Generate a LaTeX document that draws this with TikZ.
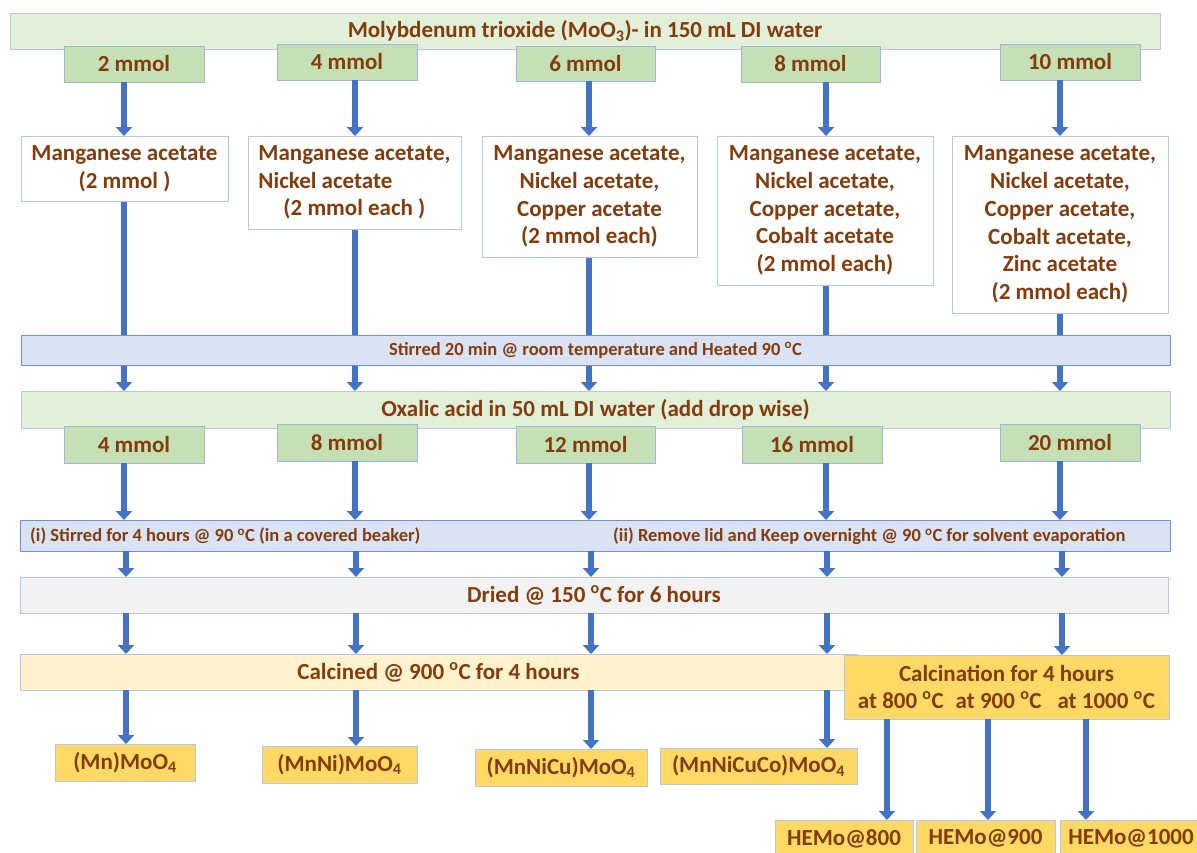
\documentclass[tikz,border=0pt]{standalone}
\usepackage{fontspec}
\setmainfont{Carlito}
\usetikzlibrary{arrows.meta}
\definecolor{txt}{HTML}{843C0C}
\definecolor{arrc}{HTML}{4472C4}
\definecolor{bandg}{HTML}{E2F0D9}
\definecolor{boxg}{HTML}{C5E0B4}
\definecolor{bandb}{HTML}{DAE3F3}
\definecolor{bandgr}{HTML}{F2F2F2}
\definecolor{bandy}{HTML}{FFF2CC}
\definecolor{gold}{HTML}{FFD966}
\definecolor{bordl}{HTML}{B4C7E7}
\definecolor{bordm}{HTML}{9DB7DD}
\definecolor{bords}{HTML}{6F91CF}
\newcommand\fA{\fontsize{23pt}{27.7pt}\selectfont\bfseries}
\newcommand\fS{\fontsize{18.5pt}{22pt}\selectfont\bfseries}
\newcommand\dg{\textsuperscript{o}C}
\pgfdeclarelayer{bg}
\pgfsetlayers{bg,main}
\begin{document}
\begin{tikzpicture}[x=1pt,y=-1pt,
  base/.style={inner sep=0pt, outer sep=0pt, anchor=north west, line width=0.9pt, text=txt, font=\fA, align=center},
  topband/.style={base, draw=bordl, fill=bandg},
  mbox/.style={base, draw=bordm, fill=boxg},
  wbox/.style={base, draw=bordl, fill=white},
  sband/.style={base, draw=bords, fill=bandb, font=\fS},
  dband/.style={base, draw=bordl, fill=bandgr},
  cband/.style={base, draw=bordl, fill=bandy},
  gbox/.style={base, draw=bordl, fill=gold},
  lbl/.style={inner sep=0pt, text=txt, font=\fS, anchor=west},
  ln/.style={draw=arrc, line width=6.5pt},
  arr/.style={ln, -{Triangle[length=9pt,width=16pt]}}]
\useasboundingbox (0,0) rectangle (1197,852);
\clip (0,0) rectangle (1197,852);
% column coordinates
\coordinate (c1) at (124,0);
\coordinate (c2) at (355,0);
\coordinate (c3) at (589,0);
\coordinate (c4) at (826,0);
\coordinate (c5) at (1060,0);
\coordinate (d1) at (126,0);
\coordinate (d2) at (356,0);
\coordinate (d3) at (591,0);
\coordinate (d4) at (827,0);
\coordinate (d5) at (1062,0);

% top band and first amounts
\node[topband, minimum width=1150pt, minimum height=36pt] (top) at (10,13) {Molybdenum trioxide (MoO\textsubscript{3})- in 150 mL DI water};
\node[mbox, minimum width=140pt, minimum height=36pt] (m1) at (64,46) {2 mmol};
\node[mbox, minimum width=140pt, minimum height=36pt] (m2) at (277,44) {4 mmol};
\node[mbox, minimum width=139pt, minimum height=35pt] (m3) at (516,46) {6 mmol};
\node[mbox, minimum width=139pt, minimum height=36pt] (m4) at (741,46) {8 mmol};
\node[mbox, minimum width=140pt, minimum height=36pt] (m5) at (1000,44) {10 mmol};

% acetate boxes
\node[wbox, minimum width=207pt, minimum height=65pt] (w1) at (21,136) {Manganese acetate\\(2 mmol )};
\node[wbox, minimum width=213pt, minimum height=93pt, align=left] (w2) at (248,136) {Manganese acetate,\\Nickel acetate\\\hspace*{25pt}(2 mmol each )};
\node[wbox, minimum width=215pt, minimum height=121pt] (w3) at (482,136) {Manganese acetate,\\Nickel acetate,\\Copper acetate\\(2 mmol each)};
\node[wbox, minimum width=216pt, minimum height=149pt] (w4) at (717,136) {Manganese acetate,\\Nickel acetate,\\Copper acetate,\\Cobalt acetate\\(2 mmol each)};
\node[wbox, minimum width=216pt, minimum height=177pt] (w5) at (952,136) {Manganese acetate,\\Nickel acetate,\\Copper acetate,\\Cobalt acetate,\\Zinc acetate\\(2 mmol each)};

\foreach \i in {1,...,5}{\draw[arr] (m\i.south -| c\i) -- (w\i.north -| c\i);}

% stirring band
\node[sband, minimum width=1149pt, minimum height=30pt] (st) at (21,335) {Stirred 20 min @ room temperature and Heated 90 \dg};

% oxalic band and amounts
\node[topband, minimum width=1149pt, minimum height=37pt] (ox) at (21,391) {Oxalic acid in 50 mL DI water (add drop wise)};
\node[mbox, minimum width=140pt, minimum height=37pt] (n1) at (64,426) {4 mmol};
\node[mbox, minimum width=140pt, minimum height=37pt] (n2) at (277,424) {8 mmol};
\node[mbox, minimum width=139pt, minimum height=37pt] (n3) at (516,426) {12 mmol};
\node[mbox, minimum width=140pt, minimum height=37pt] (n4) at (742,426) {16 mmol};
\node[mbox, minimum width=140pt, minimum height=37pt] (n5) at (1000,424) {20 mmol};

\begin{pgfonlayer}{bg}
\foreach \i in {1,...,5}{\draw[arr] (w\i.south -| c\i) -- (ox.north -| c\i);}
\end{pgfonlayer}

% stirring / evaporation band
\node[sband, minimum width=1150pt, minimum height=31pt] (ev) at (20,520) {};
\node[lbl] (ev1) at (30,536) {(i) Stirred for 4 hours @ 90 \dg{} (in a covered beaker)};
\node[lbl] (ev2) at (613,536) {(ii) Remove lid and Keep overnight @ 90 \dg{} for solvent evaporation};
\foreach \i in {1,...,5}{\draw[arr] (n\i.south -| c\i) -- (ev.north -| c\i);}

% drying
\node[dband, minimum width=1148pt, minimum height=36pt] (dr) at (20,577) {Dried @ 150 \dg{} for 6 hours};
\foreach \i in {1,...,5}{\draw[arr] (ev.south -| d\i) -- (dr.north -| d\i);}

% calcination
\node[cband, minimum width=837pt, minimum height=36pt] (ca) at (20,654) {Calcined @ 900 \dg{} for 4 hours};
\node[gbox, minimum width=325pt, minimum height=64pt] (cg) at (844,655) {Calcination for 4 hours\\at 800 \dg\hspace{12pt}at 900 \dg\hspace{16pt}at 1000 \dg};
\foreach \i in {1,...,4}{\draw[arr] (dr.south -| d\i) -- (ca.north -| d\i);}
\draw[arr] (dr.south -| d5) -- (cg.north -| d5);

% products
\node[gbox, minimum width=140pt, minimum height=37pt] (p1) at (55,744) {(Mn)MoO\textsubscript{4}};
\node[gbox, minimum width=155pt, minimum height=37pt] (p2) at (262,746) {(MnNi)MoO\textsubscript{4}};
\node[gbox, minimum width=172pt, minimum height=37pt] (p3) at (475,749) {(MnNiCu)MoO\textsubscript{4}};
\node[gbox, minimum width=197pt, minimum height=36pt] (p4) at (660,748) {(MnNiCuCo)MoO\textsubscript{4}};
\foreach \i in {1,...,4}{\draw[arr] (ca.south -| d\i) -- (p\i.north -| d\i);}

\node[gbox, minimum width=138pt, minimum height=37pt] (h1) at (775,820) {HEMo@800};
\node[gbox, minimum width=139pt, minimum height=37pt] (h2) at (916,820) {HEMo@900};
\node[gbox, minimum width=142pt, minimum height=37pt] (h3) at (1060,820) {HEMo@1000};
\coordinate (e1) at (887,0);
\coordinate (e2) at (988,0);
\coordinate (e3) at (1086,0);
\foreach \i in {1,2,3}{\draw[arr] (cg.south -| e\i) -- (h\i.north -| e\i);}
\end{tikzpicture}
\end{document}
